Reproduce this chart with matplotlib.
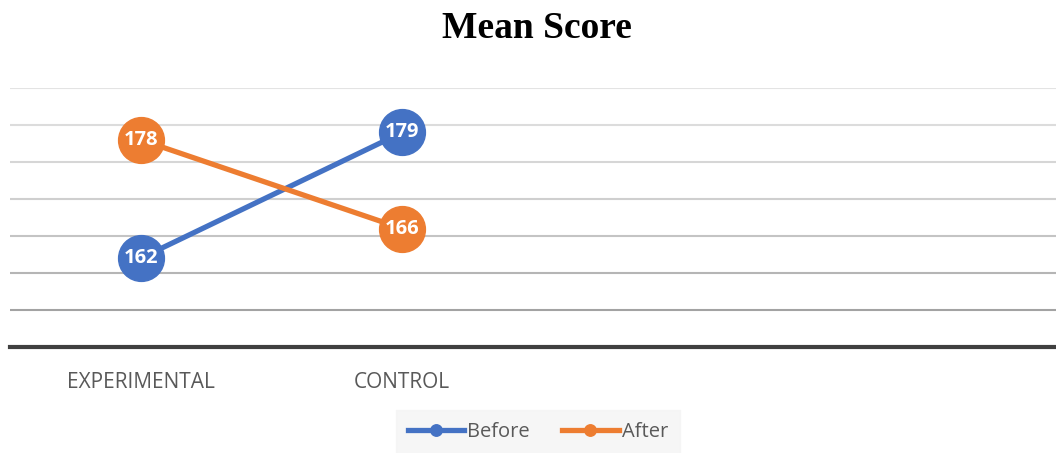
import matplotlib
matplotlib.use("Agg")
import matplotlib.pyplot as plt

# data
categories = ["EXPERIMENTAL", "CONTROL", "", ""]
before = [162, 179]
after = [178, 166]
grid_values = [155, 160, 165, 170, 175, 180, 185]

blue = "#4472C4"
orange = "#ED7D31"
text_grey = "#595959"

fig = plt.figure(figsize=(10.56, 4.53), dpi=100)
ax = fig.add_axes([10 / 1056, 1 - 347 / 453, 1046 / 1056, (347 - 88) / 453])

# gridlines get darker toward the bottom, like the reference
grid_colors = ["#e3e3e3", "#dcdcdc", "#d6d6d6", "#cfcfcf", "#c4c4c4", "#b5b5b5", "#a3a3a3"]
for val, col in zip(sorted(grid_values, reverse=True), grid_colors):
    ax.axhline(val, color=col, linewidth=1.5, zorder=0)

x = list(range(len(categories)))
l1, = ax.plot(x[:2], before, color=blue, linewidth=3.8, marker="o", markersize=33,
              label="Before", zorder=3)
l2, = ax.plot(x[:2], after, color=orange, linewidth=3.8, marker="o", markersize=33,
              label="After", zorder=3)

for xi, v in zip(x, before):
    ax.text(xi, v, str(v), color="white", fontsize=14.5, fontweight="bold",
            family="Open Sans", ha="center", va="center", zorder=4)
for xi, v in zip(x, after):
    ax.text(xi, v, str(v), color="white", fontsize=14.5, fontweight="bold",
            family="Open Sans", ha="center", va="center", zorder=4)

ax.set_xlim(-0.5, len(categories) - 0.5)
ax.set_ylim(150, 185)
ax.set_yticks([])
ax.set_xticks(x)
ax.set_xticklabels(categories, fontsize=15, color=text_grey, family="Open Sans")
ax.tick_params(axis="x", length=0, pad=18)
for side in ["top", "right", "left"]:
    ax.spines[side].set_visible(False)
ax.spines["bottom"].set_color("#404040")
ax.spines["bottom"].set_linewidth(3)

fig.text(537 / 1056, 1 - 28 / 453, "Mean Score", fontsize=27, fontweight="bold",
         family="Liberation Serif", ha="center", va="center")

leg = fig.legend(handles=[l1, l2], labels=["Before", "After"], loc="center",
                 bbox_to_anchor=(538 / 1056, 1 - 432 / 453), ncol=2, frameon=True,
                 prop={"family": "Open Sans", "size": 14.5}, handlelength=2.8,
                 markerscale=0.25, columnspacing=1.6, handletextpad=0.15,
                 borderpad=0.6, fancybox=False)
leg.get_frame().set_facecolor("#f4f4f4")
leg.get_frame().set_edgecolor("#f4f4f4")
for t in leg.get_texts():
    t.set_color(text_grey)

fig.savefig("out.png", dpi=100)
